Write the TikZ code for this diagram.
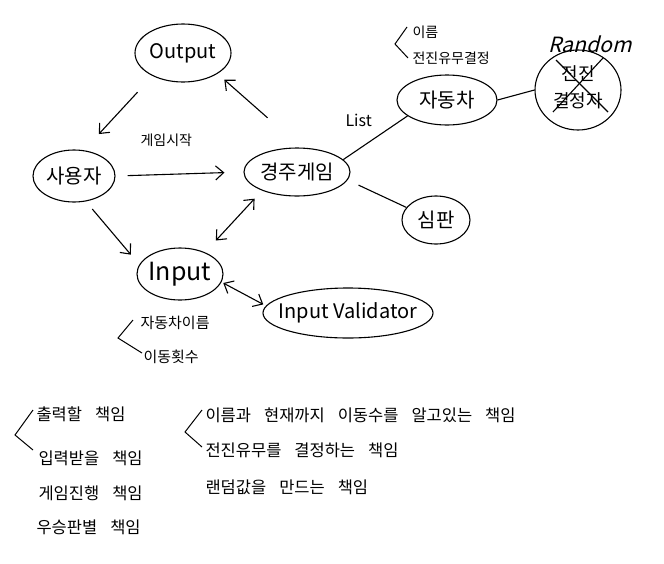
\documentclass[tikz,border=0pt]{standalone}
\usepackage{fontspec}
\setmainfont{Noto Sans CJK KR}
\newfontfamily\rndfont[FakeSlant=0.25]{Noto Sans CJK KR}
\usetikzlibrary{shapes.geometric,arrows.meta}
\newcommand\wsp{\hspace{13pt}}
\newcommand\ctrtxt[1]{\makebox[0pt]{#1}}
\begin{document}
\begin{tikzpicture}[x=1pt,y=-1pt, line width=1.1pt,
  ell/.style={draw, ellipse, inner sep=0pt, font=\fontsize{20}{24}\selectfont},
  arr/.style={-{Straight Barb[length=8pt,width=14pt]}},
  darr/.style={{Straight Barb[length=8pt,width=14pt]}-{Straight Barb[length=8pt,width=14pt]}},
  note/.style={inner sep=0pt, anchor=west, font=\fontsize{15}{17}\selectfont},
  resp/.style={inner sep=0pt, anchor=west, font=\fontsize{16.5}{18}\selectfont},
  brk/.style={line width=1pt}]
\fill[white] (0,0) rectangle (664,563);
\useasboundingbox (0,0) rectangle (664,563);

% main nodes
\node[ell, minimum width=96pt, minimum height=58pt] (out) at (183,53) {\ctrtxt{Output}};
\node[ell, minimum width=82pt, minimum height=52pt] (user) at (74,176) {\ctrtxt{사용자}};
\node[ell, minimum width=106pt, minimum height=48pt] (game) at (297,172) {\ctrtxt{경주게임}};
\node[ell, minimum width=100pt, minimum height=50pt] (car) at (447,100) {\ctrtxt{자동차}};
\node[ell, minimum width=86pt, minimum height=80pt, font=\fontsize{18}{22}\selectfont] (dec) at (578,90) {\ctrtxt{\begin{tabular}{@{}c@{}}전진\\[5pt]결정자\end{tabular}}};
\node[ell, minimum width=68pt, minimum height=48pt] (judge) at (436,220) {\ctrtxt{심판}};
\node[ell, minimum width=86pt, minimum height=52pt, font=\fontsize{25}{28}\selectfont] (in) at (180,274) {\ctrtxt{Input}};
\node[ell, minimum width=170pt, minimum height=50pt] (val) at (348,313) {\ctrtxt{Input Validator}};

\node[inner sep=0pt, font=\rndfont\fontsize{21}{23}\selectfont] (rnd) at (590,44) {Random};

% crossed out decider
\draw ([shift={(-22,-30)}]dec.center) -- ([shift={(30,22)}]dec.center);
\draw ([shift={(25,-32)}]dec.center) -- ([shift={(-25,22)}]dec.center);

% labels
\node[note, font=\fontsize{14}{16}\selectfont] (start) at (140,140) {게임시작};
\node[note, font=\fontsize{16}{18}\selectfont] (list) at (345,120) {List};
\node[note, font=\fontsize{14}{16}\selectfont] (n1) at (412,32) {이름};
\node[note, font=\fontsize{14}{16}\selectfont] (n2) at (412,58) {전진유무결정};
\draw[brk] (407,27) -- (395,44) -- (408,58);
\node[note] (i1) at (140,323) {자동차이름};
\node[note] (i2) at (143,357) {이동횟수};
\draw[brk] (133,320) -- (118,338) -- (142,353);

% connectors
\draw[arr, shorten <=22pt, shorten >=22pt] (out.217) -- (user.69);
\draw[arr, shorten <=45pt, shorten >=9pt] (game.80) -- (out.329);
\draw[arr, shorten <=12pt, shorten >=19pt] (user.east) -- (game.west);
\draw[arr, shorten <=10pt, shorten >=13pt] (user.295) -- (in.167);
\draw[darr, shorten <=16pt, shorten >=11pt] (in.41) -- (game.208);
\draw[darr, shorten <=2pt, shorten >=3pt] (in.349) -- (val.175);
\draw (game.15) -- (car.202);
\draw[shorten <=12pt] (game.351) -- (judge.157);
\draw (car.east) -- (dec.west);

% responsibilities
\node[resp] (r1) at (36,414) {출력할\wsp 책임};
\node[resp] (r2) at (38,458) {입력받을\wsp 책임};
\node[resp] (r3) at (38,493) {게임진행\wsp 책임};
\node[resp] (r4) at (36,527) {우승판별\wsp 책임};
\draw[brk] (33,410) -- (15,435) -- (33,450);
\node[resp] (s1) at (205,415) {이름과\wsp 현재까지\wsp 이동수를\wsp 알고있는\wsp 책임};
\node[resp] (s2) at (205,450) {전진유무를\wsp 결정하는\wsp 책임};
\node[resp] (s3) at (205,487) {랜덤값을\wsp 만드는\wsp 책임};
\draw[brk] (202,410) -- (185,432) -- (202,447);
\end{tikzpicture}
\end{document}
